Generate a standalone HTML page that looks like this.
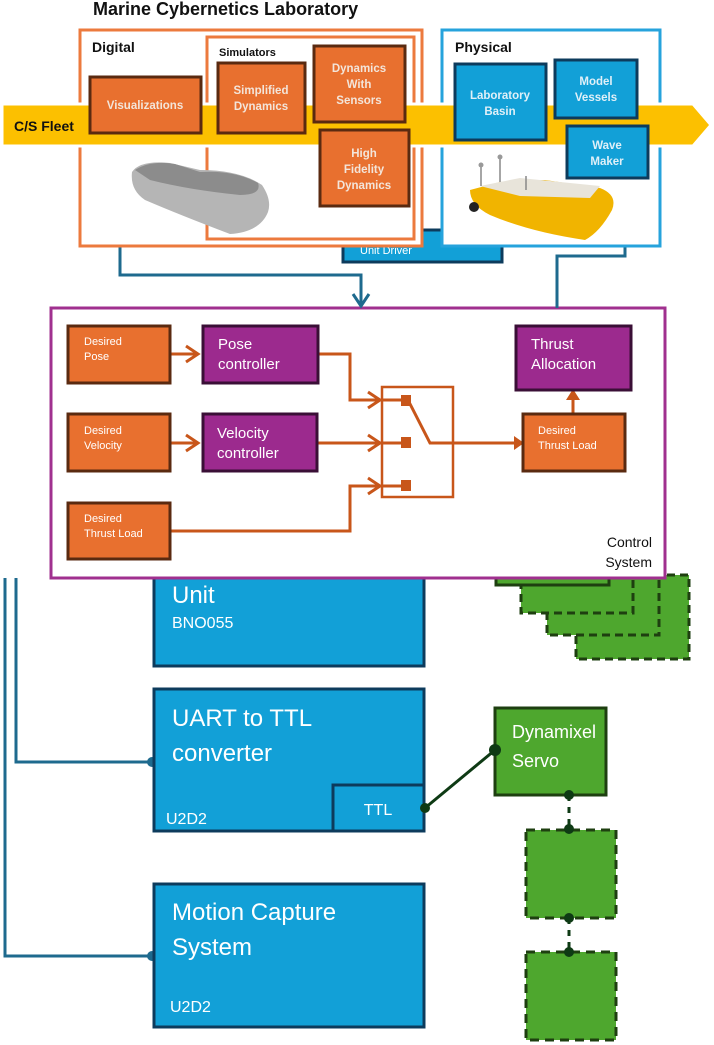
<!DOCTYPE html>
<html><head><meta charset="utf-8"><style>
html,body{margin:0;padding:0;background:#fff;}
svg{display:block;font-family:"Liberation Sans",sans-serif;}
</style></head><body>
<svg width="714" height="1045" viewBox="0 0 714 1045" xmlns="http://www.w3.org/2000/svg">
<rect width="714" height="1045" fill="#fff"/>
<g>
<rect x="576" y="575" width="113" height="84" fill="#4ea72e" stroke="#1e3f10" stroke-width="3" stroke-dasharray="8 5"/>
<rect x="547" y="575" width="112" height="60" fill="#4ea72e" stroke="#1e3f10" stroke-width="3" stroke-dasharray="8 5"/>
<rect x="521" y="575" width="112" height="38" fill="#4ea72e" stroke="#1e3f10" stroke-width="3" stroke-dasharray="8 5"/>
<rect x="496" y="570" width="113" height="15" fill="#4ea72e" stroke="#1e3f10" stroke-width="3"/>
<path d="M5 578 V956 H152" fill="none" stroke="#1e6a8e" stroke-width="3"/>
<path d="M16 578 V762 H152" fill="none" stroke="#1e6a8e" stroke-width="3"/>
<circle cx="152" cy="762" r="5" fill="#1e6a8e"/>
<circle cx="152" cy="956" r="5" fill="#1e6a8e"/>
<rect x="154" y="570" width="270" height="96" fill="#12a0d7" stroke="#0d3b5c" stroke-width="3"/>
<text x="172" y="603" font-size="24" fill="#fff">Unit</text>
<text x="172" y="628" font-size="16" fill="#fff">BNO055</text>
<rect x="154" y="689" width="270" height="142" fill="#12a0d7" stroke="#0d3b5c" stroke-width="3"/>
<rect x="333" y="785" width="91" height="46" fill="#12a0d7" stroke="#0d3b5c" stroke-width="3"/>
<text x="172" y="726" font-size="24" fill="#fff">UART to TTL</text>
<text x="172" y="761" font-size="24" fill="#fff">converter</text>
<text x="166" y="824" font-size="16" fill="#fff">U2D2</text>
<text x="378" y="815" font-size="16" fill="#fff" text-anchor="middle">TTL</text>
<rect x="154" y="884" width="270" height="143" fill="#12a0d7" stroke="#0d3b5c" stroke-width="3"/>
<text x="172" y="920" font-size="24" fill="#fff">Motion Capture</text>
<text x="172" y="955" font-size="24" fill="#fff">System</text>
<text x="170" y="1012" font-size="16" fill="#fff">U2D2</text>
<line x1="425" y1="808" x2="495" y2="750" stroke="#0e3a14" stroke-width="3"/>
<circle cx="425" cy="808" r="5" fill="#0e3a14"/>
<rect x="495" y="708" width="111" height="87" fill="#4ea72e" stroke="#1e3f10" stroke-width="3"/>
<circle cx="495" cy="750" r="6" fill="#0e3a14"/>
<text x="512" y="738" font-size="18" fill="#fff">Dynamixel</text>
<text x="512" y="767" font-size="18" fill="#fff">Servo</text>
<line x1="569" y1="795" x2="569" y2="828" stroke="#0e3a14" stroke-width="3" stroke-dasharray="6 6"/>
<rect x="526" y="830" width="90" height="88" fill="#4ea72e" stroke="#1e3f10" stroke-width="3" stroke-dasharray="9 6"/>
<line x1="569" y1="918" x2="569" y2="950" stroke="#0e3a14" stroke-width="3" stroke-dasharray="6 6"/>
<rect x="526" y="952" width="90" height="88" fill="#4ea72e" stroke="#1e3f10" stroke-width="3" stroke-dasharray="9 6"/>
<circle cx="569" cy="795" r="5" fill="#0e3a14"/>
<circle cx="569" cy="829" r="5" fill="#0e3a14"/>
<circle cx="569" cy="918" r="5" fill="#0e3a14"/>
<circle cx="569" cy="952" r="5" fill="#0e3a14"/>
</g>
<rect x="51" y="308" width="614" height="270" fill="#fff" stroke="#a0308f" stroke-width="3"/>
<g stroke="#c8561a" stroke-width="3" fill="none">
<path d="M170 354 H198"/><path d="M186 346 L198 354 L186 362"/>
<path d="M170 443 H198"/><path d="M186 435 L198 443 L186 451"/>
<path d="M318 354 H350 V400 H380"/><path d="M368 392 L380 400 L368 408"/>
<path d="M318 443 H380"/><path d="M368 435 L380 443 L368 451"/>
<path d="M170 531 H350 V486 H380"/><path d="M368 478 L380 486 L368 494"/>
<rect x="382" y="387" width="71" height="110" stroke-width="2.5"/>
<path d="M382 400 H408 L430 443 H515"/>
<path d="M382 443 H408"/><path d="M382 486 H408"/>
<path d="M573 413 V398"/>
</g>
<path d="M514 436 L524 443 L514 450 Z" fill="#c8561a"/>
<path d="M566 400 L573 389 L580 400 Z" fill="#c8561a"/>
<rect x="401" y="395" width="10" height="11" fill="#c8561a"/>
<rect x="401" y="437" width="10" height="11" fill="#c8561a"/>
<rect x="401" y="480" width="10" height="11" fill="#c8561a"/>
<g stroke="#5a2a10" stroke-width="3" fill="#e8702f">
<rect x="68" y="326" width="102" height="57"/>
<rect x="68" y="414" width="102" height="57"/>
<rect x="68" y="503" width="102" height="56"/>
<rect x="523" y="414" width="102" height="57"/>
</g>
<g stroke="#3a0f36" stroke-width="3" fill="#9c2a8e">
<rect x="203" y="326" width="115" height="57"/>
<rect x="203" y="414" width="114" height="57"/>
<rect x="516" y="326" width="115" height="64"/>
</g>
<g fill="#fff" font-size="11">
<text x="84" y="345">Desired</text><text x="84" y="360">Pose</text>
<text x="84" y="434">Desired</text><text x="84" y="449">Velocity</text>
<text x="84" y="522">Desired</text><text x="84" y="537">Thrust Load</text>
<text x="538" y="434">Desired</text><text x="538" y="449">Thrust Load</text>
</g>
<g fill="#fff" font-size="15">
<text x="218" y="349">Pose</text><text x="218" y="369">controller</text>
<text x="217" y="438">Velocity</text><text x="217" y="458">controller</text>
<text x="531" y="349">Thrust</text><text x="531" y="369">Allocation</text>
</g>
<text x="652" y="547" font-size="14" fill="#111" text-anchor="end">Control</text>
<text x="652" y="567" font-size="14" fill="#111" text-anchor="end">System</text>
<path d="M120 246 V275 H361 V306" fill="none" stroke="#1e6a8e" stroke-width="3"/>
<path d="M353 294 L361 306 L369 294" fill="none" stroke="#1e6a8e" stroke-width="3"/>
<path d="M625 246 V256 H557 V308" fill="none" stroke="#1e6a8e" stroke-width="3"/>
<rect x="343" y="230" width="159" height="32" fill="#12a0d7" stroke="#0d3b5c" stroke-width="3"/>
<text x="360" y="254" font-size="11" fill="#fff">Unit Driver</text>
<rect x="80" y="30" width="342" height="216" fill="#fff" stroke="#ec7a3e" stroke-width="3"/>
<rect x="207" y="37" width="207" height="202" fill="#fff" stroke="#ec7a3e" stroke-width="3"/>
<rect x="442" y="30" width="218" height="216" fill="#fff" stroke="#26a3dc" stroke-width="3"/>
<path d="M2 104 H693 L711 125 L693 146 H2 Z" fill="#fcc000" stroke="#fff" stroke-width="3"/>
<text x="93" y="15" font-size="18" font-weight="bold" fill="#111">Marine Cybernetics Laboratory</text>
<text x="92" y="52" font-size="14" font-weight="bold" fill="#111">Digital</text>
<text x="219" y="56" font-size="11" font-weight="bold" fill="#111">Simulators</text>
<text x="455" y="52" font-size="14" font-weight="bold" fill="#111">Physical</text>
<text x="14" y="131" font-size="14" font-weight="bold" fill="#111">C/S Fleet</text>
<path d="M132 172 Q140 160 170 163 L200 170 Q240 170 262 185 Q272 200 268 212 Q260 232 230 234 Q180 215 145 200 Q130 190 132 172 Z" fill="#b5b5b5"/>
<path d="M135 170 Q150 160 175 164 L200 172 Q235 170 258 183 Q262 195 240 195 Q190 190 150 180 Z" fill="#8c8c8c"/>
<path d="M470 190 L500 182 L545 180 L600 188 Q618 195 612 210 Q600 232 585 240 Q530 232 490 215 Q470 205 470 190 Z" fill="#f1b400"/>
<path d="M480 186 L520 178 L600 186 L590 198 L520 196 Z" fill="#e8e4da"/>
<line x1="500" y1="157" x2="500" y2="182" stroke="#888" stroke-width="1.5"/>
<line x1="481" y1="165" x2="481" y2="186" stroke="#888" stroke-width="1.5"/>
<line x1="526" y1="176" x2="526" y2="190" stroke="#888" stroke-width="1.5"/>
<circle cx="500" cy="157" r="2.5" fill="#999"/><circle cx="481" cy="165" r="2.5" fill="#999"/>
<circle cx="474" cy="207" r="5" fill="#222"/>
<g stroke="#5a2a10" stroke-width="3" fill="#e8702f">
<rect x="90" y="77" width="111" height="56"/>
<rect x="218" y="63" width="87" height="70"/>
<rect x="314" y="46" width="91" height="76"/>
<rect x="320" y="130" width="89" height="76"/>
</g>
<g stroke="#0d3b5c" stroke-width="3" fill="#12a0d7">
<rect x="455" y="64" width="91" height="76"/>
<rect x="555" y="60" width="82" height="58"/>
<rect x="567" y="126" width="81" height="52"/>
</g>
<g fill="#f3e5da" font-size="11.5" font-weight="bold" text-anchor="middle">
<text x="145" y="109">Visualizations</text>
<text x="261" y="94">Simplified</text><text x="261" y="110">Dynamics</text>
<text x="359" y="72">Dynamics</text><text x="359" y="88">With</text><text x="359" y="104">Sensors</text>
<text x="364" y="157">High</text><text x="364" y="173">Fidelity</text><text x="364" y="189">Dynamics</text>
</g>
<g fill="#e0f0f8" font-size="11.5" font-weight="bold" text-anchor="middle">
<text x="500" y="99">Laboratory</text><text x="500" y="115">Basin</text>
<text x="596" y="85">Model</text><text x="596" y="101">Vessels</text>
<text x="607" y="149">Wave</text><text x="607" y="165">Maker</text>
</g>
</svg>
</body></html>
